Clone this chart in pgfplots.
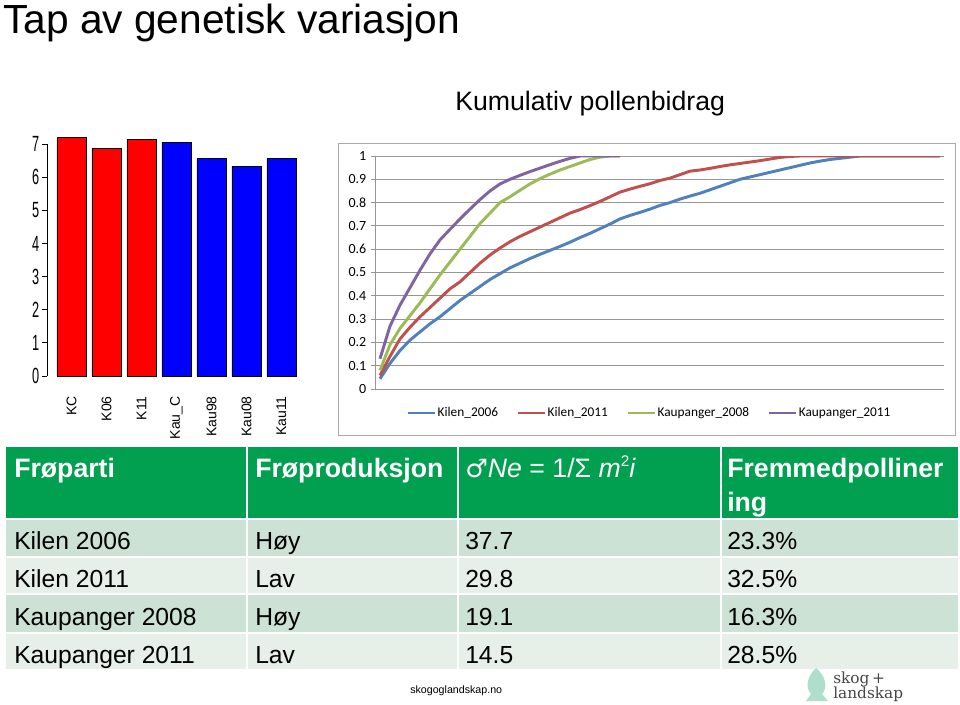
\documentclass[border=0pt]{standalone}
\usepackage{fontspec}
\setmainfont{Liberation Sans}
\newfontfamily\calibri{Carlito}
\newfontfamily\dejavu{DejaVu Sans}
\newfontfamily\logofont{DejaVu Serif}
\usepackage{pgfplots}
\pgfplotsset{compat=1.18}
\definecolor{exblue}{RGB}{79,129,189}
\definecolor{exred}{RGB}{192,80,77}
\definecolor{exgreen}{RGB}{155,187,89}
\definecolor{expurple}{RGB}{128,100,162}
\definecolor{hdrgreen}{RGB}{0,160,80}
\definecolor{rowA}{RGB}{204,226,212}
\definecolor{rowB}{RGB}{230,240,233}
\definecolor{gridgray}{RGB}{150,150,150}
\definecolor{framegray}{RGB}{170,170,170}
\definecolor{logogreen}{RGB}{175,222,205}
\definecolor{logotext}{RGB}{70,70,70}
\begin{document}
\begin{tikzpicture}
\begin{scope}[x=0.75pt,y=-0.75pt]
\path[use as bounding box, fill=white] (0,0) rectangle (960,704);
% titles
\node[anchor=base west, inner sep=0, font=\fontsize{30.5}{36}\selectfont] at (3,33) {Tap av genetisk variasjon};
\node[anchor=base west, inner sep=0, font=\fontsize{20}{24}\selectfont] at (455,110) {Kumulativ pollenbidrag};
% chart frame
\draw[framegray, line width=0.75pt] (338,143) rectangle (955,435);
% table background
\fill[hdrgreen] (6,447) rectangle (958,518);
\fill[rowA] (6,520) rectangle (958,556);
\fill[rowB] (6,558) rectangle (958,593);
\fill[rowA] (6,595) rectangle (958,632);
\fill[rowB] (6,634) rectangle (958,669);
\foreach \xx in {246.5,457.5,720.5} \draw[white, line width=1.5pt] (\xx,447) -- (\xx,669);
% header
\begin{scope}[every node/.style={anchor=base west, inner sep=0, text=white, font=\bfseries\fontsize{20}{24}\selectfont}]
\node at (14,477) {Frøparti};
\node at (255,477) {Frøproduksjon};
\node[font=\fontsize{20}{24}\selectfont] at (465,477) {{\dejavu\fontsize{19}{24}\selectfont ♂}\textit{Ne} = 1/Σ \textit{m}\raisebox{0.38em}{\fontsize{11.5}{12}\selectfont 2}\textit{i}};
\node at (727,477) {Fremmedpolliner};
\node at (727,511) {ing};
\end{scope}
% body
\begin{scope}[every node/.style={anchor=base west, inner sep=0, font=\fontsize{18.5}{22}\selectfont}]
\node at (14,549) {Kilen 2006};      \node at (255,549) {Høy}; \node at (465,549) {37.7}; \node at (727,549) {23.3\%};
\node at (14,587) {Kilen 2011};      \node at (255,587) {Lav}; \node at (465,587) {29.8}; \node at (727,587) {32.5\%};
\node at (14,625) {Kaupanger 2008};  \node at (255,625) {Høy}; \node at (465,625) {19.1}; \node at (727,625) {16.3\%};
\node at (14,663) {Kaupanger 2011};  \node at (255,663) {Lav}; \node at (465,663) {14.5}; \node at (727,663) {28.5\%};
\end{scope}
% footer
\node[anchor=base west, inner sep=0, font=\fontsize{8}{9}\selectfont] at (410,693) {skogoglandskap.no};
% logo
\fill[logogreen] (816,668) .. controls (807,676) and (805,688) .. (811,694) -- (806,701) -- (828,701) -- (822,694) .. controls (828,688) and (826,676) .. (816,668) -- cycle;
\node[anchor=base west, inner sep=0, text=logotext, font=\logofont\fontsize{11.5}{12}\selectfont] at (833,683) {skog\,+};
\node[anchor=base west, inner sep=0, text=logotext, font=\logofont\fontsize{11.5}{12}\selectfont] at (833,698) {landskap};
\end{scope}

% ---------------- bar chart ----------------
\begin{axis}[at={(35.25pt,-282pt)}, anchor=south west, scale only axis,
  width=191.6pt, height=174pt,
  xmin=-0.7, xmax=6.6, ymin=0, ymax=7, clip=false,
  axis y line*=left, axis x line*=bottom,
  x axis line style={draw=none},
  xtick={0,...,6}, xticklabels={KC,K06,K11,Kau\_C,Kau98,Kau08,Kau11},
  major x tick style={draw=none},
  ytick={0,...,7}, tick align=outside, major tick length=3.75pt,
  major y tick style={black, line width=0.6pt},
  y axis line style={black, line width=0.6pt},
  /pgf/number format/assume math mode=true,
  yticklabel style={font=\fontsize{16.5}{17}\selectfont, xscale=0.58},
  xticklabel style={rotate=90, anchor=east, font=\fontsize{10.5}{12}\selectfont},
  xticklabel shift=8pt,
]
\addplot[ybar, bar shift=0pt, bar width=21.75pt, fill=red, draw=black, line width=0.4pt] coordinates {(0,7.19) (1,6.87) (2,7.15)};
\addplot[ybar, bar shift=0pt, bar width=21.75pt, fill=blue, draw=black, line width=0.4pt] coordinates {(3,7.04) (4,6.56) (5,6.33) (6,6.56)};
\end{axis}

% ---------------- line chart ----------------
\begin{axis}[at={(281.25pt,-291.75pt)}, anchor=south west, scale only axis,
  width=426.75pt, height=174.75pt,
  xmin=0.5, xmax=57.4, ymin=0, ymax=1,
  axis x line*=bottom, axis y line*=left,
  axis line style={gridgray, line width=0.75pt},
  xtick=\empty,
  ytick={0,0.1,0.2,0.3,0.4,0.5,0.6,0.7,0.8,0.9,1},
  yticklabels={0,0.1,0.2,0.3,0.4,0.5,0.6,0.7,0.8,0.9,1},
  ymajorgrids, grid style={gridgray, line width=0.75pt},
  tick align=outside, major tick length=3pt,
  major y tick style={gridgray, line width=0.75pt},
  yticklabel style={font=\calibri\fontsize{10.5}{12}\selectfont},
  legend columns=4,
  legend style={at={(0.482,-0.103)}, anchor=center, draw=none, fill=none,
    font=\calibri\fontsize{10}{12}\selectfont,
    /tikz/every even column/.append style={column sep=13pt},
    nodes={inner sep=1pt}},
  legend image code/.code={\draw[#1, line width=2.2pt] (0pt,0pt) -- (20pt,0pt);},
  every axis plot/.append style={line width=2.2pt, line join=round},
]
\addplot[exblue] coordinates {
(1,0.044)(2,0.11)(3,0.165)(4,0.21)(5,0.245)(6,0.28)(7,0.31)(8,0.345)(9,0.38)(10,0.41)
(11,0.44)(12,0.47)(13,0.495)(14,0.52)(15,0.54)(16,0.56)(17,0.578)(18,0.595)(19,0.612)(20,0.63)
(21,0.65)(22,0.668)(23,0.688)(24,0.708)(25,0.73)(26,0.745)(27,0.758)(28,0.772)(29,0.788)(30,0.80)
(31,0.815)(32,0.828)(33,0.84)(34,0.855)(35,0.87)(36,0.885)(37,0.90)(38,0.91)(39,0.92)(40,0.93)
(41,0.94)(42,0.95)(43,0.96)(44,0.97)(45,0.978)(46,0.985)(47,0.99)(48,0.995)(49,1)(50,1)
(51,1)(52,1)(53,1)(54,1)(55,1)(56,1)(57,1)};
\addlegendentry{Kilen\_2006}
\addplot[exred] coordinates {
(1,0.058)(2,0.14)(3,0.215)(4,0.265)(5,0.31)(6,0.35)(7,0.39)(8,0.43)(9,0.46)(10,0.50)
(11,0.54)(12,0.575)(13,0.605)(14,0.632)(15,0.655)(16,0.675)(17,0.695)(18,0.715)(19,0.735)(20,0.755)
(21,0.77)(22,0.787)(23,0.805)(24,0.825)(25,0.845)(26,0.858)(27,0.87)(28,0.881)(29,0.895)(30,0.905)
(31,0.92)(32,0.935)(33,0.94)(34,0.947)(35,0.955)(36,0.962)(37,0.968)(38,0.974)(39,0.98)(40,0.987)
(41,0.994)(42,0.998)(43,1)(44,1)(45,1)(46,1)(47,1)(48,1)(49,1)(50,1)
(51,1)(52,1)(53,1)(54,1)(55,1)(56,1)(57,1)};
\addlegendentry{Kilen\_2011}
\addplot[exgreen] coordinates {
(1,0.08)(2,0.19)(3,0.26)(4,0.315)(5,0.37)(6,0.43)(7,0.49)(8,0.545)(9,0.60)(10,0.655)
(11,0.71)(12,0.755)(13,0.80)(14,0.825)(15,0.853)(16,0.88)(17,0.903)(18,0.922)(19,0.94)(20,0.955)
(21,0.97)(22,0.985)(23,0.995)(24,1)(25,1)};
\addlegendentry{Kaupanger\_2008}
\addplot[expurple] coordinates {
(1,0.13)(2,0.27)(3,0.36)(4,0.435)(5,0.51)(6,0.58)(7,0.64)(8,0.685)(9,0.73)(10,0.772)
(11,0.813)(12,0.85)(13,0.88)(14,0.9)(15,0.917)(16,0.933)(17,0.948)(18,0.963)(19,0.977)(20,0.99)
(21,1)(22,1)(23,1)(24,1)(25,1)};
\addlegendentry{Kaupanger\_2011}
\end{axis}
\end{tikzpicture}
\end{document}
